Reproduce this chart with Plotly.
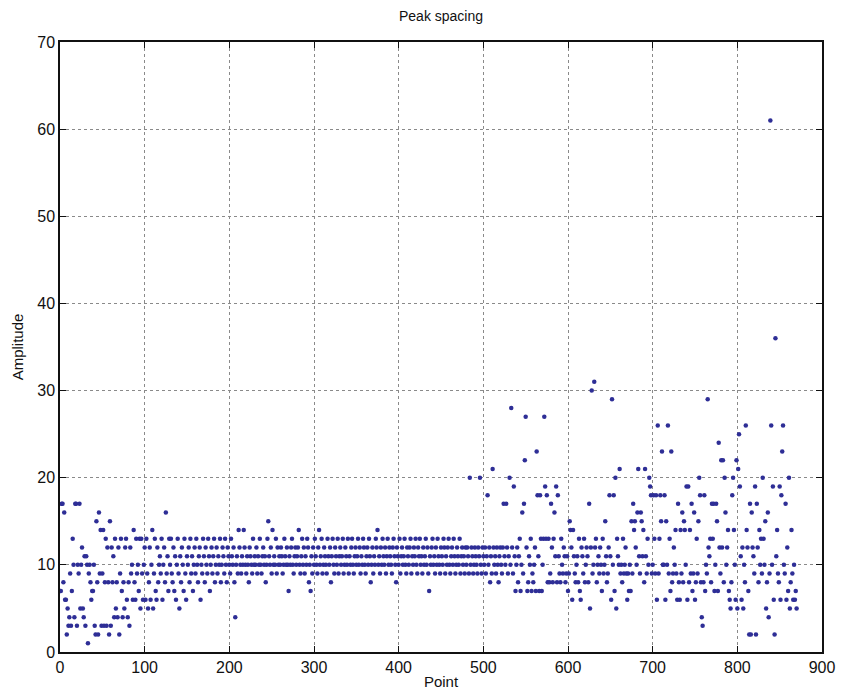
import numpy as np
import plotly.graph_objects as go

# Peak spacing amplitudes, one per point index
amplitude = [
    7, 17, 17, 8, 16, 6, 6, 2, 5, 3,
    4, 9, 3, 7, 13, 10, 4, 17, 17, 3,
    10, 9, 17, 5, 10, 12, 5, 4, 11, 3,
    11, 10, 1, 9, 10, 8, 6, 7, 7, 10,
    3, 2, 15, 8, 2, 16, 9, 14, 3, 9,
    14, 3, 8, 13, 3, 12, 8, 2, 15, 3,
    12, 8, 11, 4, 13, 5, 8, 4, 12, 2,
    9, 13, 7, 4, 8, 5, 12, 13, 6, 4,
    8, 3, 12, 9, 10, 6, 14, 8, 6, 13,
    9, 10, 7, 13, 5, 13, 9, 6, 10, 12,
    6, 13, 9, 5, 8, 12, 6, 10, 14, 5,
    9, 13, 7, 6, 12, 8, 10, 11, 9, 13,
    6, 10, 12, 8, 16, 9, 11, 7, 13, 10,
    13, 9, 8, 12, 7, 11, 6, 10, 13, 9,
    5, 11, 8, 12, 10, 7, 13, 9, 6, 11,
    10, 12, 8, 13, 9, 11, 7, 10, 12, 9,
    13, 10, 8, 11, 12, 6, 10, 9, 13, 11,
    8, 12, 10, 9, 13, 11, 7, 10, 12, 9,
    11, 13, 8, 10, 12, 9, 11, 10, 13, 8,
    10, 12, 11, 9, 13, 10, 8, 12, 11, 10,
    9, 13, 11, 10, 12, 8, 4, 10, 11, 9,
    14, 12, 10, 9, 11, 10, 14, 12, 10, 9,
    11, 10, 8, 12, 11, 10, 9, 13, 10, 11,
    10, 12, 9, 11, 10, 13, 10, 9, 11, 12,
    10, 11, 8, 10, 13, 15, 11, 10, 12, 9,
    14, 10, 11, 10, 13, 9, 12, 10, 11, 10,
    12, 11, 9, 10, 13, 11, 10, 12, 10, 7,
    11, 10, 12, 13, 10, 9, 11, 12, 10, 11,
    12, 14, 10, 9, 11, 13, 10, 12, 9, 11,
    10, 13, 12, 8, 10, 7, 11, 9, 12, 10,
    13, 11, 10, 9, 12, 14, 10, 11, 13, 9,
    10, 12, 11, 10, 9, 13, 11, 10, 12, 8,
    11, 13, 10, 9, 12, 11, 10, 13, 9, 11,
    12, 10, 11, 13, 9, 10, 12, 11, 10, 13,
    9, 11, 10, 12, 13, 10, 9, 11, 12, 10,
    11, 13, 10, 12, 9, 11, 10, 13, 12, 10,
    9, 11, 12, 10, 13, 11, 8, 10, 12, 9,
    11, 10, 13, 12, 14, 10, 11, 9, 12, 10,
    13, 11, 10, 12, 9, 11, 13, 10, 12, 11,
    10, 9, 12, 13, 11, 10, 8, 12, 11, 10,
    13, 9, 11, 12, 10, 11, 13, 10, 9, 12,
    11, 10, 12, 13, 9, 11, 10, 12, 11, 13,
    10, 9, 12, 11, 13, 10, 11, 9, 12, 10,
    11, 13, 10, 12, 9, 7, 11, 10, 12, 13,
    10, 11, 9, 12, 10, 13, 11, 10, 9, 12,
    11, 10, 13, 12, 9, 11, 10, 12, 13, 10,
    9, 11, 12, 10, 13, 11, 9, 10, 12, 11,
    10, 13, 9, 11, 12, 10, 11, 9, 12, 10,
    12, 11, 9, 20, 10, 12, 11, 9, 10, 12,
    11, 10, 9, 12, 11, 20, 10, 9, 12, 11,
    10, 12, 9, 11, 18, 10, 12, 8, 11, 9,
    21, 12, 10, 11, 9, 12, 10, 8, 11, 12,
    10, 9, 12, 17, 11, 10, 17, 12, 9, 11,
    20, 10, 28, 12, 9, 19, 11, 7, 10, 12,
    8, 11, 13, 7, 10, 16, 9, 17, 22, 27,
    12, 7, 8, 11, 10, 13, 7, 9, 8, 10,
    12, 7, 23, 18, 11, 7, 18, 13, 7, 10,
    13, 27, 19, 13, 18, 8, 13, 8, 9, 17,
    12, 8, 13, 16, 11, 19, 8, 18, 11, 9,
    8, 13, 10, 9, 12, 11, 8, 9, 11, 7,
    9, 15, 14, 12, 6, 14, 11, 9, 8, 10,
    11, 8, 13, 7, 6, 12, 11, 9, 13, 8,
    10, 12, 11, 8, 17, 5, 12, 30, 9, 10,
    31, 12, 13, 8, 10, 11, 9, 12, 10, 7,
    13, 9, 10, 15, 11, 8, 9, 12, 18, 11,
    6, 29, 10, 18, 7, 20, 5, 13, 11, 10,
    21, 9, 10, 8, 13, 9, 10, 12, 9, 6,
    9, 7, 10, 7, 15, 9, 17, 14, 15, 12,
    10, 16, 21, 11, 9, 16, 15, 11, 14, 8,
    21, 11, 9, 13, 10, 20, 19, 18, 9, 10,
    18, 13, 9, 18, 6, 26, 9, 13, 18, 15,
    23, 10, 10, 18, 6, 15, 10, 26, 9, 13,
    7, 23, 8, 9, 12, 10, 14, 9, 6, 17,
    8, 6, 14, 9, 16, 8, 15, 14, 10, 19,
    6, 19, 8, 14, 9, 17, 7, 9, 16, 6,
    8, 13, 9, 15, 20, 18, 8, 4, 3, 8,
    18, 7, 10, 9, 29, 12, 11, 13, 8, 17,
    13, 17, 7, 10, 17, 15, 7, 24, 12, 9,
    22, 12, 22, 8, 20, 16, 10, 12, 14, 7,
    6, 5, 8, 18, 20, 14, 10, 6, 22, 5,
    21, 25, 19, 11, 6, 12, 5, 10, 8, 26,
    14, 12, 7, 2, 17, 2, 16, 12, 11, 9,
    19, 2, 17, 12, 8, 14, 10, 13, 9, 20,
    13, 10, 15, 5, 8, 16, 4, 9, 61, 26,
    10, 19, 6, 2, 36, 11, 14, 9, 8, 19,
    6, 18, 23, 26, 10, 9, 17, 6, 12, 7,
    20, 5, 8, 14, 9, 6, 10, 6, 7, 5,
]
point = list(range(1, len(amplitude) + 1))

x_ticks = [0, 100, 200, 300, 400, 500, 600, 700, 800, 900]
y_ticks = [0, 10, 20, 30, 40, 50, 60, 70]

font = "Liberation Sans, Arial, Helvetica, sans-serif"

fig = go.Figure(
    go.Scatter(
        x=point,
        y=amplitude,
        mode="markers",
        marker=dict(color="#2e2e96", size=4.5, line=dict(width=0)),
        showlegend=False,
    )
)

axis_common = dict(
    showgrid=True,
    gridcolor="#8a8a8a",
    griddash="dot",
    gridwidth=1,
    showline=True,
    linecolor="#111111",
    linewidth=1.5,
    mirror="ticks",
    ticks="inside",
    ticklen=6,
    tickcolor="#111111",
    tickfont=dict(family=font, size=16, color="#111111"),
    zeroline=False,
    automargin=False,
)

fig.update_layout(
    width=839,
    height=685,
    paper_bgcolor="white",
    plot_bgcolor="white",
    margin=dict(l=52, r=25, t=34, b=41),
    title=dict(
        text="Peak spacing",
        x=0.5,
        xref="paper",
        y=1.0,
        yref="container",
        yanchor="top",
        pad=dict(t=3),
        font=dict(family=font, size=14, color="#111111"),
    ),
    xaxis=dict(
        range=[0, 900],
        tickvals=x_ticks,
        title=dict(text="Point", standoff=2,
                   font=dict(family=font, size=15, color="#111111")),
        **axis_common,
    ),
    yaxis=dict(
        range=[0, 70],
        tickvals=y_ticks,
        title=dict(text="Amplitude", standoff=10,
                   font=dict(family=font, size=15, color="#111111")),
        **axis_common,
    ),
)

fig.write_html("out.html")
